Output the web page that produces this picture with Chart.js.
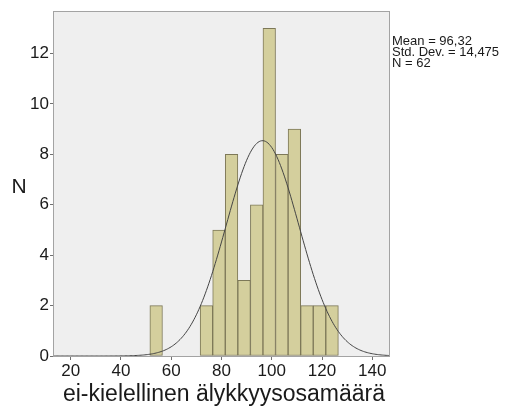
<!DOCTYPE html>
<html>
<head>
<meta charset="utf-8">
<script src="https://cdn.jsdelivr.net/npm/chart.js@4.4.0/dist/chart.umd.min.js"></script>
<style>
  html, body { margin: 0; padding: 0; background: #ffffff; }
  #wrap { width: 514px; height: 410px; position: relative; }
</style>
</head>
<body>
<div id="wrap"><canvas id="c" width="514" height="410"></canvas></div>
<script>
// Histogram bins (centre of each 5-point class) and their counts
const binCenters = [54, 74, 79, 84, 89, 94, 99, 104, 109, 114, 119, 124];
const binCounts  = [2, 2, 5, 8, 3, 6, 13, 8, 9, 2, 2, 2];
const binWidth = 5;

// Summary statistics shown beside the plot
const meanValue = 96.32;
const stdDevValue = 14.475;
const caseCount = 62;
const statLines = ['Mean = 96,32', 'Std. Dev. = 14,475', 'N = 62'];

// Axis ranges and tick labels
const xTicks = [20, 40, 60, 80, 100, 120, 140];
const yTicks = [0, 2, 4, 6, 8, 10, 12];
const xRange = [13.35, 146.65];
const yRange = [0, 13.65];
const xTitle = 'ei-kielellinen älykkyysosamäärä';
const yTitle = 'N';

// Fitted normal curve scaled to counts per bin
const curveXs = [];
for (let x = 13; x <= 147; x += 0.5) curveXs.push(x);
const curvePoints = curveXs.map(x => {
  const z = (x - meanValue) / stdDevValue;
  const y = caseCount * binWidth * Math.exp(-0.5 * z * z) / (stdDevValue * Math.sqrt(2 * Math.PI));
  return { x, y };
});

const FONT = '"Liberation Sans", Arial, sans-serif';

const decor = {
  id: 'decor',
  beforeDraw(chart) {
    const { ctx, chartArea: a } = chart;
    ctx.save();
    ctx.fillStyle = '#efefef';
    ctx.fillRect(a.left, a.top, a.right - a.left, a.bottom - a.top);
    ctx.restore();
  },
  afterDraw(chart) {
    const { ctx, chartArea: a } = chart;
    ctx.save();
    ctx.strokeStyle = '#a3a3a3';
    ctx.lineWidth = 1;
    ctx.strokeRect(a.left - 0.5, a.top - 0.5, a.right - a.left + 1, a.bottom - a.top + 1);

    ctx.fillStyle = '#1a1a1a';
    ctx.textBaseline = 'alphabetic';
    ctx.font = '13px ' + FONT;
    ctx.textAlign = 'left';
    statLines.forEach((t, i) => ctx.fillText(t, a.right + 3, 45 + i * 11));

    ctx.font = '21px ' + FONT;
    ctx.textAlign = 'center';
    ctx.textBaseline = 'middle';
    ctx.fillText(yTitle, 19, 187);

    ctx.font = '23px ' + FONT;
    ctx.textBaseline = 'alphabetic';
    ctx.fillText(xTitle, (a.left + a.right) / 2 + 2.5, 401);
    ctx.restore();
  }
};

new Chart(document.getElementById('c'), {
  data: {
    datasets: [
      {
        type: 'line',
        order: 0,
        data: curvePoints,
        borderColor: '#454545',
        borderWidth: 1,
        pointRadius: 0,
        fill: false,
        tension: 0
      },
      {
        type: 'bar',
        order: 1,
        data: binCenters.map((x, i) => ({ x, y: binCounts[i] })),
        backgroundColor: '#d4cf9d',
        borderColor: '#7d7858',
        borderWidth: 1,
        borderSkipped: false,
        barPercentage: 1,
        categoryPercentage: 1
      }
    ]
  },
  plugins: [decor],
  options: {
    responsive: false,
    animation: false,
    devicePixelRatio: 1,
    layout: { padding: { top: 12, right: 125, left: 0, bottom: 0 } },
    plugins: { legend: { display: false }, tooltip: { enabled: false } },
    scales: {
      x: {
        type: 'linear',
        offset: false,
        min: xRange[0],
        max: xRange[1],
        afterBuildTicks: s => { s.ticks = xTicks.map(v => ({ value: v })); },
        afterFit: s => { s.height = 54; },
        grid: { drawOnChartArea: false, drawTicks: true, tickLength: 4, color: '#707070', offset: false },
        border: { display: false },
        ticks: { font: { family: FONT, size: 17 }, color: '#1a1a1a', padding: 1, maxRotation: 0 }
      },
      y: {
        type: 'linear',
        min: yRange[0],
        max: yRange[1],
        afterBuildTicks: s => { s.ticks = yTicks.map(v => ({ value: v })); },
        afterFit: s => { s.width = 54; },
        grid: { drawOnChartArea: false, drawTicks: true, tickLength: 4, color: '#707070' },
        border: { display: false },
        ticks: { font: { family: FONT, size: 17 }, color: '#1a1a1a', padding: 1 }
      }
    }
  }
});
</script>
</body>
</html>
